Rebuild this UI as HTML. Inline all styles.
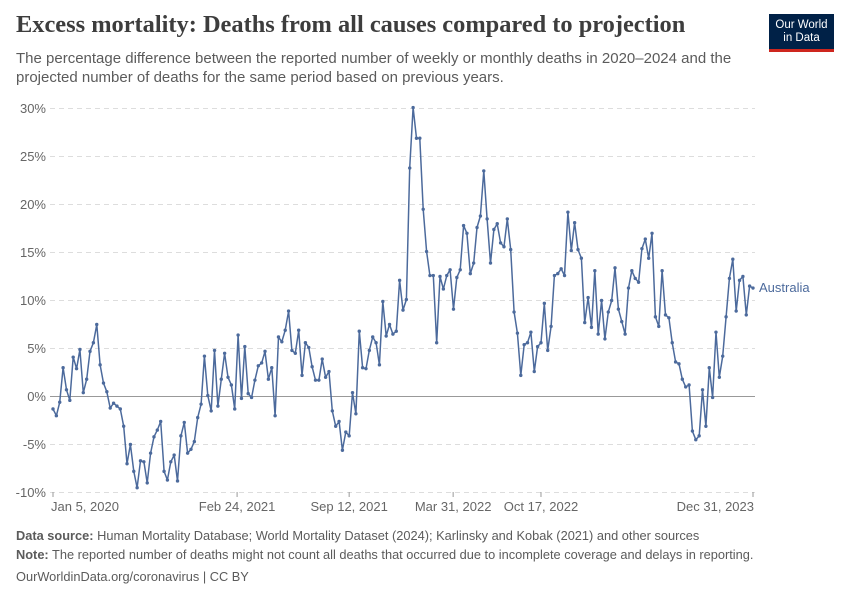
<!DOCTYPE html>
<html><head><meta charset="utf-8"><style>
body{margin:0;background:#fff;font-family:"Liberation Sans",sans-serif;}
#wrap{position:relative;width:850px;height:600px;overflow:hidden}
.t{position:absolute;white-space:nowrap}
</style></head><body>
<div id="wrap">
<div class="t" style="left:16px;top:11px;font-family:'Liberation Serif',serif;font-weight:bold;font-size:24.4px;color:#3d3d3d">Excess mortality: Deaths from all causes compared to projection</div>
<div class="t" style="left:16px;top:49px;font-size:15px;line-height:19px;color:#5b5b5b">The percentage difference between the reported number of weekly or monthly deaths in 2020–2024 and the<br>projected number of deaths for the same period based on previous years.</div>
<div style="position:absolute;left:769px;top:14px;width:65px;height:38px;background:#002147;border-bottom:3px solid #ce261e;box-sizing:border-box;color:#fff;font-size:11.5px;line-height:13px;text-align:center;padding-top:5px">Our World<br>in Data</div>
<svg id="chart" width="850" height="600" style="position:absolute;left:0;top:0"></svg>
<div class="t" style="left:16px;top:528px;font-size:12.8px;color:#5b5b5b"><b>Data source:</b> Human Mortality Database; World Mortality Dataset (2024); Karlinsky and Kobak (2021) and other sources</div>
<div class="t" style="left:16px;top:547px;font-size:12.8px;color:#5b5b5b"><b>Note:</b> The reported number of deaths might not count all deaths that occurred due to incomplete coverage and delays in reporting.</div>
<div class="t" style="left:16px;top:569px;font-size:12.8px;color:#5b5b5b">OurWorldinData.org/coronavirus | CC BY</div>
</div>
<script>
const values=[-1.3,-2.0,-0.6,3.0,0.7,-0.4,4.1,2.9,4.9,0.4,1.8,4.7,5.6,7.5,3.3,1.4,0.5,-1.2,-0.7,-1.0,-1.3,-3.1,-7.0,-5.0,-7.8,-9.5,-6.7,-6.8,-9.0,-5.9,-4.2,-3.5,-2.6,-7.8,-8.7,-6.8,-6.1,-8.8,-4.1,-2.7,-5.9,-5.5,-4.7,-2.2,-0.8,4.2,0.1,-1.5,4.8,-1.0,1.8,4.5,2.0,1.2,-1.3,6.4,-0.2,5.2,0.3,-0.1,1.7,3.2,3.5,4.7,1.8,3.0,-2.0,6.2,5.7,6.9,8.9,4.8,4.5,6.9,2.2,5.6,5.1,3.1,1.7,1.7,3.9,2.0,2.6,-1.5,-3.1,-2.6,-5.6,-3.7,-4.1,0.4,-1.8,6.8,3.0,2.9,4.8,6.2,5.6,3.3,9.9,6.3,7.5,6.5,6.8,12.1,9.0,10.1,23.8,30.1,26.9,26.9,19.5,15.1,12.6,12.6,5.6,12.5,11.2,12.6,13.2,9.1,12.4,13.2,17.8,17.0,12.8,13.9,17.6,18.8,23.5,18.5,13.9,17.4,18.0,16.0,15.6,18.5,15.3,8.8,6.6,2.2,5.4,5.6,6.7,2.6,5.2,5.6,9.7,4.8,7.3,12.6,12.8,13.3,12.6,19.2,15.2,18.1,15.3,14.4,7.7,10.3,7.2,13.1,6.5,10.0,6.0,8.8,10.0,13.4,9.1,7.8,6.5,11.3,13.1,12.3,11.9,15.4,16.4,14.4,17.0,8.3,7.3,13.1,8.5,8.2,5.6,3.6,3.4,1.8,1.0,1.2,-3.6,-4.5,-4.1,0.7,-3.1,3.0,-0.1,6.7,2.0,4.2,8.3,12.3,14.3,8.9,12.1,12.5,8.5,11.5,11.3];
const yTicks=[-10,-5,0,5,10,15,20,25,30];
const xTickLabels=["Jan 5, 2020","Feb 24, 2021","Sep 12, 2021","Mar 31, 2022","Oct 17, 2022","Dec 31, 2023"];
const xTickWeeks=[0,54.7,88,118.9,145,208];
const seriesName="Australia";
const NS="http://www.w3.org/2000/svg";
const svg=document.getElementById('chart');
const x=w=>53+w*(700/208);
const y=v=>396.5-v*9.6;
function mk(t,a){const e=document.createElementNS(NS,t);for(const k in a)e.setAttribute(k,a[k]);svg.appendChild(e);return e;}
yTicks.forEach(v=>{
  const g=mk('line',{x1:50,x2:755,y1:y(v),y2:y(v),stroke:v===0?'#999':'#ddd','stroke-width':1,'stroke-dasharray':v===0?'':'5,4'});
  
  
  const t=mk('text',{x:46,y:y(v)+4.5,'text-anchor':'end','font-size':13,fill:'#666','font-family':'Liberation Sans, sans-serif'});
  t.textContent=v+'%';
  
  
});
xTickLabels.forEach((l,i)=>{
  const px=x(xTickWeeks[i]);
  const tk=mk('line',{x1:px,x2:px,y1:492,y2:497,stroke:'#999'});
  
  
  const anchor=i===0?'start':(i===xTickLabels.length-1?'end':'middle');
  const t=mk('text',{x:i===0?px-2:(i===xTickLabels.length-1?px+1:px),y:511,'text-anchor':anchor,'font-size':13,fill:'#666','font-family':'Liberation Sans, sans-serif'});
  t.textContent=l;
  
  
});
const pts=values.map((v,i)=>x(i).toFixed(1)+','+y(v).toFixed(1)).join(' ');
const line=mk('polyline',{points:pts,fill:'none',stroke:'#4c6a9c','stroke-width':1.5,'stroke-linejoin':'round'});


values.forEach((v,i)=>{
  const c=mk('circle',{cx:x(i),cy:y(v),r:1.7,fill:'#4c6a9c'});
  
  
});
const last=values[values.length-1];
const lb=mk('text',{x:759,y:y(last)+4,'font-size':13,fill:'#4c6a9c','font-family':'Liberation Sans, sans-serif'});
lb.textContent=seriesName;


</script>
</body></html>
